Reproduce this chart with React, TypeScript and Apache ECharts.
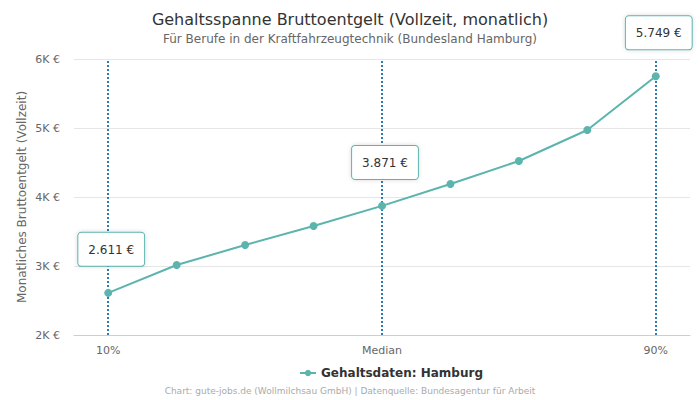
import React, { useEffect, useRef } from "react";
import * as echarts from "echarts";

const categories = ["10%", "20%", "30%", "40%", "Median", "60%", "70%", "80%", "90%"];
const shownLabels = ["10%", "Median", "90%"];
const salaryValues = [2611, 3014, 3304, 3580, 3871, 4188, 4522, 4971, 5749];
const labelledIndices = [0, 4, 8];
const yTicks = [2000, 3000, 4000, 5000, 6000];

const teal = "#5bb4ad";
const fmt = (v: number) => v.toLocaleString("de-DE") + " €";

export default function App() {
  const ref = useRef<HTMLDivElement>(null);
  useEffect(() => {
    if (!ref.current) return;
    const chart = echarts.init(ref.current, null, { renderer: "svg" });
    const font = "DejaVu Sans";
    chart.setOption({
      animation: false,
      textStyle: { fontFamily: font },
      title: [
        {
          text: "Gehaltsspanne Bruttoentgelt (Vollzeit, monatlich)",
          subtext: "Für Berufe in der Kraftfahrzeugtechnik (Bundesland Hamburg)",
          left: "center",
          top: 6,
          itemGap: 6,
          textStyle: { fontFamily: font, fontSize: 16, fontWeight: "normal", color: "#333" },
          subtextStyle: { fontFamily: font, fontSize: 12, color: "#666" },
        },
        {
          text: "Chart: gute-jobs.de (Wollmilchsau GmbH) | Datenquelle: Bundesagentur für Arbeit",
          left: "center",
          top: 381,
          textStyle: { fontFamily: font, fontSize: 9, fontWeight: "normal", color: "#aaa" },
        },
      ],
      legend: {
        top: 362,
        left: 294,
        data: ["Gehaltsdaten: Hamburg"],
        itemWidth: 16,
        itemHeight: 8,
        textStyle: { fontFamily: font, fontSize: 12, fontWeight: "bold", color: "#333" },
      },
      grid: { left: 74, right: 10, top: 59, bottom: 65, containLabel: false },
      xAxis: {
        type: "category",
        data: categories,
        boundaryGap: true,
        axisLine: { lineStyle: { color: "#ccd" } },
        axisTick: { show: false },
        axisLabel: {
          interval: 0,
          color: "#666",
          fontSize: 11,
          margin: 10,
          formatter: (v: string) => (shownLabels.includes(v) ? v : ""),
        },
      },
      yAxis: {
        type: "value",
        min: yTicks[0],
        max: yTicks[yTicks.length - 1],
        interval: 1000,
        name: "Monatliches Bruttoentgelt (Vollzeit)",
        nameLocation: "middle",
        nameGap: 46,
        nameMoveOverlap: false,
        nameTextStyle: { fontFamily: font, fontSize: 12, color: "#666" },
        axisLine: { show: false },
        axisTick: { show: false },
        splitLine: { lineStyle: { color: "#e6e6e6" } },
        axisLabel: {
          color: "#666",
          fontSize: 11,
          margin: 14,
          formatter: (v: number) => v / 1000 + "K €",
        },
      },
      series: [
        {
          name: "Gehaltsdaten: Hamburg",
          type: "line",
          data: salaryValues.map((v, i) =>
            labelledIndices.includes(i)
              ? {
                  value: v,
                  label: {
                    show: true,
                    position: "top",
                    distance: 23,
                    offset: [3, 0],
                    formatter: () => fmt(v),
                    color: "#333",
                    fontSize: 12,
                    fontFamily: font,
                    backgroundColor: "#fff",
                    borderColor: teal,
                    borderWidth: 1,
                    borderRadius: 3,
                    padding: [11, 10, 10, 10],
                    shadowColor: "rgba(0,0,0,0.15)",
                    shadowBlur: 4,
                  },
                }
              : v
          ),
          symbol: "circle",
          symbolSize: 8,
          itemStyle: { color: teal },
          lineStyle: { color: teal, width: 2 },
          z: 3,
          markLine: {
            silent: true,
            symbol: "none",
            label: { show: false },
            lineStyle: { color: "#2d7bb6", type: "dotted", width: 2 },
            data: labelledIndices.map((i) => ({ xAxis: categories[i] })),
            z: 1,
          },
        },
      ],
    });
    return () => chart.dispose();
  }, []);
  return <div ref={ref} style={{ width: 700, height: 400, position: "absolute", left: 0, top: 0 }} />;
}
